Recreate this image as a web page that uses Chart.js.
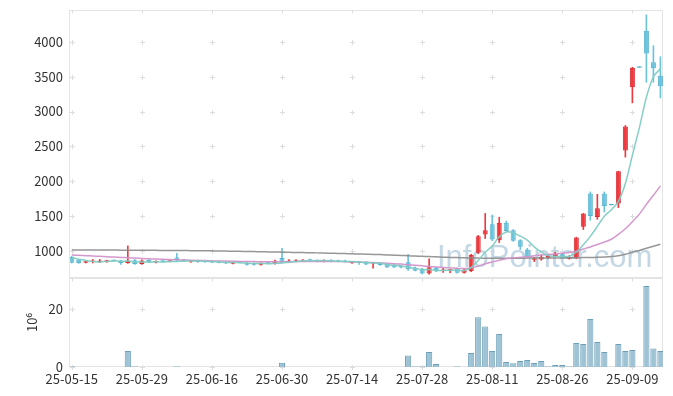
<!DOCTYPE html>
<html>
<head>
<meta charset="utf-8">
<script src="https://cdn.jsdelivr.net/npm/chart.js@4.4.0/dist/chart.umd.min.js"></script>
<style>
html, body { margin: 0; padding: 0; background: #fff; }
#wrap { position: relative; width: 673px; height: 396px; }
#price { position: absolute; left: 0; top: 0; }
#volume { position: absolute; left: 0; top: 278px; }
</style>
</head>
<body>
<div id="wrap">
  <canvas id="price" width="673" height="279"></canvas>
  <canvas id="volume" width="673" height="118"></canvas>
</div>
<script>
const dates = ['25-05-15','25-05-16','25-05-19','25-05-20','25-05-21','25-05-22','25-05-23','25-05-26','25-05-27','25-05-28',
  '25-05-29','25-05-30','25-06-02','25-06-04','25-06-05','25-06-09','25-06-10','25-06-11','25-06-12','25-06-13',
  '25-06-16','25-06-17','25-06-18','25-06-19','25-06-20','25-06-23','25-06-24','25-06-25','25-06-26','25-06-27',
  '25-06-30','25-07-01','25-07-02','25-07-03','25-07-04','25-07-07','25-07-08','25-07-09','25-07-10','25-07-11',
  '25-07-14','25-07-15','25-07-16','25-07-17','25-07-18','25-07-21','25-07-22','25-07-23','25-07-24','25-07-25',
  '25-07-28','25-07-29','25-07-30','25-07-31','25-08-01','25-08-04','25-08-05','25-08-06','25-08-07','25-08-08',
  '25-08-11','25-08-12','25-08-13','25-08-14','25-08-18','25-08-19','25-08-20','25-08-21','25-08-22','25-08-25',
  '25-08-26','25-08-27','25-08-28','25-08-29','25-09-01','25-09-02','25-09-03','25-09-04','25-09-05','25-09-08',
  '25-09-09','25-09-10','25-09-11','25-09-12','25-09-15'];

const openP = [915,875,835,845,845,845,860,864,830,870, 815,876,838,850,848,910,870,848,862,845,
  845,842,838,820,838,833,830,805,833,814, 900,838,848,852,876,868,848,868,865,865,
  830,843,848,824,833,814,805,790,840,767, 748,680,762,710,720,748,690,710,976,1238,
  1386,1157,1405,1300,1157,1024,875,881,905,929, 957,890,895,1348,1824,1490,1824,1657,1681,2443,
  3347,3629,4157,3705,3514];
const highP = [925,880,850,880,880,870,868,870,1075,880, 875,880,860,858,860,970,878,865,870,850,
  852,850,845,845,842,840,835,835,838,870, 1040,880,880,880,885,875,875,880,870,872,
  850,855,850,840,838,818,810,795,955,775, 755,890,770,752,740,755,740,955,1225,1540,
  1515,1486,1430,1310,1165,1040,910,950,955,985, 965,935,1200,1540,1848,1814,1848,1657,2145,2800,
  3635,3629,4386,3943,3786];
const lowP = [830,825,830,830,835,840,855,810,825,810, 810,835,832,842,845,865,855,840,840,838,
  835,830,820,815,830,800,800,800,815,812, 830,835,845,850,860,845,845,845,845,843,
  825,810,805,757,795,765,765,760,725,715, 675,670,705,695,690,685,685,705,965,1180,
  1150,1124,1285,1140,1024,910,850,870,895,920, 895,885,890,1310,1443,1457,1562,1657,1624,2347,
  3124,3629,3419,3419,3196];
const closeP = [835,830,845,860,862,870,858,830,864,815, 867,838,850,848,855,867,860,862,845,843,
  838,835,825,838,835,805,805,830,820,862, 833,867,871,876,862,848,871,848,848,845,
  843,833,810,838,800,767,767,767,740,719, 681,770,710,738,733,690,733,948,1214,1300,
  1167,1405,1290,1148,1062,919,890,919,933,967, 905,919,1195,1538,1505,1614,1648,1657,2143,2786,
  3629,3629,3833,3619,3362];

const ma5 = [905,885,865,850,846,853,859,856,857,847, 845,843,847,845,852,852,856,858,858,855,
  850,845,838,836,834,828,822,823,819,824, 830,842,851,862,862,865,866,861,855,852,
  851,843,836,834,825,810,796,788,768,752, 735,735,724,724,726,728,721,768,866,985,
  1072,1207,1275,1262,1214,1158,1062,988,934,926, 923,927,984,1091,1212,1354,1500,1592,1713,1970,
  2373,2769,3204,3499,3614];
const ma20 = [945,940,935,930,925,920,915,910,905,900, 895,890,886,882,879,876,873,870,867,864,
  861,859,857,855,853,851,850,849,848,848, 848,849,850,851,851,851,852,852,851,849,
  846,843,840,836,831,826,820,814,806,798, 789,781,773,766,760,754,750,760,785,820,
  845,870,892,905,912,918,935,945,952,960, 970,980,1000,1030,1060,1095,1130,1170,1240,1320,
  1420,1530,1670,1800,1935];
const ma120 = [1018,1017,1017,1016,1016,1015,1015,1014,1014,1013, 1013,1012,1011,1010,1009,1009,1008,1007,1006,1005,
  1004,1002,1001,999,997,995,993,991,989,987, 985,983,981,979,977,975,972,970,967,965,
  962,959,956,953,950,946,942,938,934,930, 926,922,918,914,910,907,904,902,900,899,
  898,898,898,899,899,900,900,901,901,902, 903,904,905,907,909,912,916,922,935,955,
  985,1010,1040,1070,1098];

// volume in millions of shares
const volume = [0.3,0,0,0,0,0,0,0,5.5,0.3, 0,0,0,0,0,0.3,0,0,0,0,
  0,0,0,0,0,0,0,0,0,0, 1.5,0,0,0,0,0,0,0,0,0,
  0,0,0,0,0,0,0,0,4.0,0.3, 0.3,5.2,1.0,0,0,0.3,0,4.8,17.2,14.0,
  5.5,11.4,1.7,1.3,2.1,2.4,1.4,2.1,0.3,0.7, 0.7,0.3,8.3,7.9,16.6,8.6,5.2,0,7.9,5.5,
  5.9,0,27.9,6.4,5.5];

const xTicks = [0, 10, 20, 30, 40, 50, 60, 70, 80];
const priceTicks = [1000, 1500, 2000, 2500, 3000, 3500, 4000];
const volumeTicks = [0, 20];

const UP = '#ee3a3f', UP_EDGE = '#d92a30';
const DOWN = '#6cc3dc', DOWN_EDGE = '#5ab4d0';

Chart.defaults.font.family = '"Noto Sans CJK KR", "Noto Sans", sans-serif';
Chart.defaults.font.size = 13;
Chart.defaults.color = '#333';

const idx = dates.map((d, i) => i);
const isUp = idx.map(i => closeP[i] > openP[i]);

const frameGrid = {
  id: 'frameGrid',
  beforeDatasetsDraw(chart) {
    const { ctx, chartArea: a, scales } = chart;
    ctx.save();
    ctx.lineWidth = 1;
    ctx.strokeStyle = '#e4e4e4';
    const l = Math.round(a.left) - 0.5, t = Math.round(a.top) + 0.5;
    const r = Math.round(a.right) - 0.5, b = Math.round(a.bottom) - 0.5;
    ctx.strokeRect(l, t, r - l, b - t);
    ctx.strokeStyle = '#dddddd';
    ctx.beginPath();
    const xs = xTicks.map(v => Math.round(scales.x.getPixelForValue(v)) + 0.5);
    const ys = scales.y.ticks.map(tk => Math.round(scales.y.getPixelForValue(tk.value)) + 0.5);
    xs.forEach(x => {
      ys.forEach(y => {
        ctx.moveTo(x - 2.5, y); ctx.lineTo(x + 2.5, y);
        ctx.moveTo(x, y - 2.5); ctx.lineTo(x, y + 2.5);
      });
      ctx.moveTo(x, t); ctx.lineTo(x, t + 3);
    });
    ctx.stroke();
    ctx.restore();
  }
};

const watermark = {
  id: 'watermark',
  beforeDatasetsDraw(chart) {
    const { ctx, chartArea: a } = chart;
    ctx.save();
    ctx.font = '31px "Liberation Sans", Arial, sans-serif';
    ctx.fillStyle = '#c3d7e4';
    ctx.textBaseline = 'alphabetic';
    ctx.fillText('InfoPointer.com', a.right - 226, a.bottom - 11);
    ctx.restore();
  }
};

function noPad(s) {
  s.paddingTop = 0; s.paddingBottom = 0; s.paddingLeft = 0; s.paddingRight = 0;
}

new Chart(document.getElementById('price'), {
  data: {
    datasets: [
      {
        type: 'line', label: 'MA5', order: 0,
        data: idx.map(i => ({ x: i, y: ma5[i] })),
        borderColor: 'rgba(128,204,194,0.95)', borderWidth: 1.5, pointRadius: 0, tension: 0.3
      },
      {
        type: 'line', label: 'MA20', order: 0,
        data: idx.map(i => ({ x: i, y: ma20[i] })),
        borderColor: 'rgba(210,146,202,0.95)', borderWidth: 1.5, pointRadius: 0, tension: 0.3
      },
      {
        type: 'line', label: 'MA120', order: 0,
        data: idx.map(i => ({ x: i, y: ma120[i] })),
        borderColor: 'rgba(140,140,140,0.9)', borderWidth: 1.5, pointRadius: 0, tension: 0.3
      },
      {
        type: 'bar', label: 'body', order: 1, grouped: false,
        data: idx.map(i => ({ x: i, y: [openP[i], closeP[i]] })),
        backgroundColor: isUp.map(u => u ? UP : DOWN),
        borderColor: isUp.map(u => u ? UP_EDGE : DOWN_EDGE),
        borderWidth: 1, borderSkipped: false,
        categoryPercentage: 1, barPercentage: 0.72, minBarLength: 1.5
      },
      {
        type: 'bar', label: 'wick', order: 2, grouped: false,
        data: idx.map(i => ({ x: i, y: [lowP[i], highP[i]] })),
        backgroundColor: isUp.map(u => u ? UP : DOWN),
        barThickness: 1, minBarLength: 1
      }
    ]
  },
  options: {
    responsive: false,
    animation: false,
    layout: { padding: { left: 0, top: 10, right: 10, bottom: 1 } },
    plugins: { legend: { display: false }, tooltip: { enabled: false } },
    scales: {
      x: {
        type: 'linear', display: false, offset: false, min: -0.25, max: 84.37,
        grid: { offset: false },
        afterBuildTicks: s => { s.ticks = xTicks.map(v => ({ value: v })); }
      },
      y: {
        type: 'linear', min: 615, max: 4455,
        afterBuildTicks: s => { s.ticks = priceTicks.map(v => ({ value: v })); },
        afterFit: s => { s.width = 70; noPad(s); },
        grid: { display: false, drawTicks: false },
        border: { display: false },
        ticks: { padding: 7, color: '#333', callback: v => String(v) }
      }
    }
  },
  plugins: [frameGrid, watermark]
});

new Chart(document.getElementById('volume'), {
  type: 'bar',
  data: {
    datasets: [{
      label: 'volume',
      data: idx.map(i => ({ x: i, y: volume[i] })),
      backgroundColor: '#9ec3d4',
      borderColor: '#6c9fb8',
      borderWidth: 1,
      categoryPercentage: 1, barPercentage: 0.88
    }]
  },
  options: {
    responsive: false,
    animation: false,
    layout: { padding: { left: 0, top: 0, right: 10, bottom: 0 } },
    plugins: { legend: { display: false }, tooltip: { enabled: false } },
    scales: {
      x: {
        type: 'linear', offset: false, min: -0.25, max: 84.37,
        afterBuildTicks: s => { s.ticks = xTicks.map(v => ({ value: v })); },
        afterFit: s => { s.height = 29; noPad(s); },
        grid: { display: false, drawTicks: false, offset: false },
        border: { display: false },
        ticks: { autoSkip: false, maxRotation: 0, padding: 4, color: '#333',
          callback: v => dates[v] }
      },
      y: {
        type: 'linear', min: 0, max: 30.7,
        afterBuildTicks: s => { s.ticks = volumeTicks.map(v => ({ value: v })); },
        afterFit: s => { s.width = 70; noPad(s); },
        grid: { display: false, drawTicks: false },
        border: { display: false },
        ticks: { padding: 7, color: '#333' },
        title: { display: true, text: '10⁶', color: '#333', font: { size: 13 }, padding: { top: 24, bottom: 0 } }
      }
    }
  },
  plugins: [frameGrid]
});
</script>
</body>
</html>
